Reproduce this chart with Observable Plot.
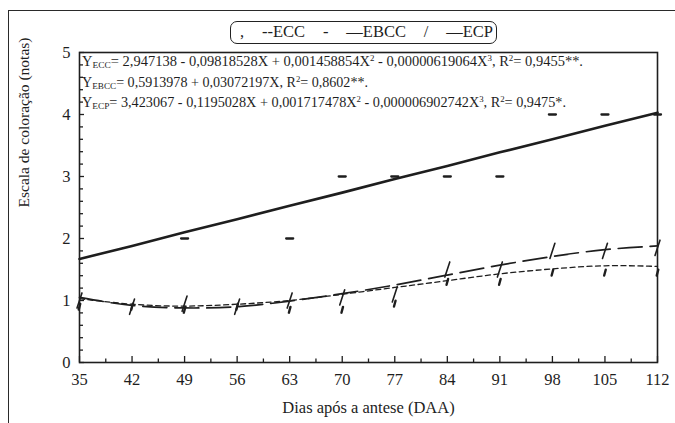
<!DOCTYPE html>
<html><head><meta charset="utf-8">
<script src="https://cdn.jsdelivr.net/npm/d3@7"></script>
<script src="https://cdn.jsdelivr.net/npm/@observablehq/plot@0.6"></script>
<style>
body{margin:0;background:#fff;}
#wrap{position:relative;width:675px;height:423px;overflow:hidden;font-family:"Liberation Serif","Times New Roman",serif;color:#1e1e1e;}
#outer{position:absolute;left:8px;top:10px;width:700px;height:500px;border:1.5px solid #2a2a2a;box-sizing:border-box;}
#legend{position:absolute;left:230px;top:21px;width:267px;height:23px;border:1.6px solid #222;border-radius:7px;box-sizing:border-box;font-size:16.5px;line-height:20px;white-space:pre;padding:0 3px 0 9px;background:#fff;display:flex;justify-content:space-between;}
#chart{position:absolute;left:0;top:0;}
</style></head>
<body><div id="wrap"><div id="outer"></div><div id="chart"></div>
<div id="legend"></div></div>
<script>
// ---- data ----
const days    = [35, 42, 49, 56, 63, 70, 77, 84, 91, 98, 105, 112];
// observed scores (markers); null = not visible in the picture
const eccObs  = [0.90, 0.90, 0.85, 0.90, 0.85, 0.85, 0.95, 1.30, 1.30, 1.45, 1.45, 1.45];
const ebccObs = [null, null, 2, null, 2, 3, 3, 3, 3, 4, 4, 4];
const ecpObs  = [1.00, 0.90, 0.95, 0.90, 1.00, 1.05, 1.10, 1.50, 1.50, 1.80, 1.80, 1.85];
// fitted curves at each day
const eccFit  = [1.03, 0.94, 0.91, 0.94, 1.00, 1.10, 1.21, 1.32, 1.43, 1.51, 1.56, 1.55];
const ebccFit = [1.67, 1.88, 2.10, 2.31, 2.53, 2.74, 2.96, 3.17, 3.39, 3.60, 3.82, 4.03];
const ecpFit  = [1.05, 0.92, 0.88, 0.90, 0.99, 1.11, 1.25, 1.41, 1.57, 1.71, 1.82, 1.88];
// ticks
const xTicks = [35, 42, 49, 56, 63, 70, 77, 84, 91, 98, 105, 112];
const xMinor = [38.5, 45.5, 52.5, 59.5, 66.5, 73.5, 80.5, 87.5, 94.5, 101.5, 108.5];
const yTicks = [0, 1, 2, 3, 4, 5];
const yMinor = [0.2,0.4,0.6,0.8,1.2,1.4,1.6,1.8,2.2,2.4,2.6,2.8,3.2,3.4,3.6,3.8,4.2,4.4,4.6,4.8];
const xLabel = "Dias após a antese (DAA)";
const yLabel = "Escala de coloração (notas)";
const legendItems = [",", "--ECC", "-", "—EBCC", "/", "—ECP"];
const equations = [
  [["Y",""],["ECC","sub"],["= 2,947138 - 0,09818528X + 0,001458854X",""],["2","sup"],[" - 0,00000619064X",""],["3","sup"],[", R",""],["2","sup"],["= 0,9455**.",""]],
  [["Y",""],["EBCC","sub"],["= 0,5913978 + 0,03072197X, R",""],["2","sup"],["= 0,8602**.",""]],
  [["Y",""],["ECP","sub"],["= 3,423067 - 0,1195028X + 0,001717478X",""],["2","sup"],[" - 0,000006902742X",""],["3","sup"],[", R",""],["2","sup"],["= 0,9475*.",""]]
];
const eqWidths = [501, 286, 484];

const rows = days.map((d, i) => ({day: d, ecc: eccObs[i], ebcc: ebccObs[i], ecp: ecpObs[i],
  eccFit: eccFit[i], ebccFit: ebccFit[i], ecpFit: ecpFit[i]}));

const ink = "#1e1e1e";
const stick = (len) => ({draw(ctx, l) { ctx.moveTo(0, -len/2); ctx.lineTo(0, len/2); }});

const plot = Plot.plot({
  width: 675, height: 423,
  marginLeft: 79, marginRight: 18, marginTop: 52, marginBottom: 61,
  style: {fontFamily: '"Liberation Serif","Times New Roman",serif', fontSize: "16px", color: ink, background: "transparent"},
  x: {domain: [35, 112]},
  y: {domain: [0, 5]},
  marks: [
    Plot.axisX({ticks: xTicks, tickSize: -6, tickPadding: 17, tickFormat: d => String(d), label: null, fontSize: 16.5, strokeWidth: 1.3}),
    Plot.axisX({ticks: xMinor, tickSize: -3.5, tickFormat: () => "", label: null, strokeWidth: 1.3}),
    Plot.axisY({ticks: yTicks, tickSize: -5, tickPadding: 14, tickFormat: d => String(d), label: null, fontSize: 16.5, strokeWidth: 1.3}),
    Plot.axisY({ticks: yMinor, tickSize: -4, tickFormat: () => "", label: null, strokeWidth: 1.3}),
    Plot.frame({stroke: ink, strokeWidth: 1.6}),
    Plot.line(rows, {x: "day", y: "eccFit", curve: "natural", stroke: ink, strokeWidth: 1.3, strokeDasharray: "5,3.5"}),
    Plot.line(rows, {x: "day", y: "ecpFit", curve: "natural", stroke: ink, strokeWidth: 1.7, strokeDasharray: "24,8"}),
    Plot.line(rows, {x: "day", y: "ebccFit", stroke: ink, strokeWidth: 2.6}),
    Plot.vector(rows.filter(r => r.ecc != null), {x: "day", y: "ecc", length: 6, rotate: 15, shape: stick(6), stroke: ink, strokeWidth: 2.4, anchor: "start"}),
    Plot.vector(rows.filter(r => r.ecp != null), {x: "day", y: "ecp", length: 16, rotate: 18, shape: stick(16), stroke: ink, strokeWidth: 1.6, anchor: "start"}),
    Plot.vector(rows.filter(r => r.ebcc != null), {x: "day", y: "ebcc", length: 7, rotate: 90, shape: stick(7), stroke: ink, strokeWidth: 2.3, anchor: "start"}),
    Plot.text([xLabel], {frameAnchor: "bottom", dy: 50, text: d => d, fontSize: 16.5}),
    Plot.text([yLabel], {frameAnchor: "left", dx: -55, rotate: -90, text: d => d, fontSize: 15.5})
  ]
});
document.getElementById("chart").appendChild(plot);

const leg = document.getElementById("legend");
legendItems.forEach(s => { const sp = document.createElement("span"); sp.textContent = s; leg.appendChild(sp); });

// regression equations (annotation) placed with the plot's scales
const sx = plot.scale("x"), sy = plot.scale("y");
const svg = d3.select(plot);
const x0 = sx.apply(35) + 3;
const baselines = [sy.apply(5) + 14, sy.apply(5) + 35, sy.apply(5) + 55];
equations.forEach((parts, i) => {
  const t = svg.append("text")
    .attr("x", x0).attr("y", baselines[i])
    .attr("text-anchor", "start")
    .attr("font-size", 13.8).attr("fill", ink)
    .attr("textLength", eqWidths[i]).attr("lengthAdjust", "spacingAndGlyphs");
  let prev = "";
  parts.forEach(([s, kind]) => {
    const ts = t.append("tspan").text(s);
    let dy = 0;
    if (prev === "sub") dy -= 2;
    if (prev === "sup") dy += 5;
    if (kind === "sub") { ts.attr("font-size", 9); dy += 2; }
    if (kind === "sup") { ts.attr("font-size", 8.5); dy -= 5; }
    if (dy) ts.attr("dy", dy);
    prev = kind;
  });
});
</script></body></html>
